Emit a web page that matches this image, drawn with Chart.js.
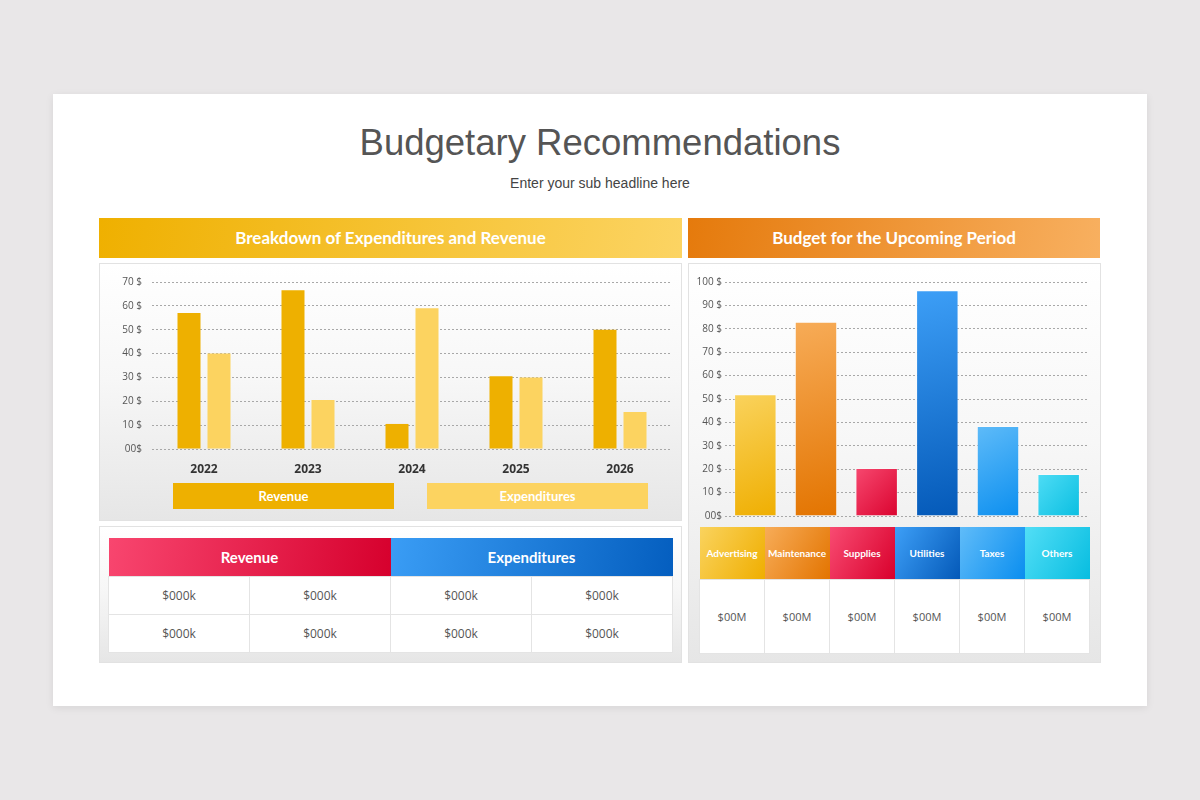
<!DOCTYPE html>
<html>
<head>
<meta charset="utf-8">
<script src="https://cdn.jsdelivr.net/npm/chart.js@4.4.1/dist/chart.umd.min.js"></script>
<style>
  html, body { margin: 0; padding: 0; }
  body { width: 1200px; height: 800px; background: #e9e7e8; position: relative; overflow: hidden; font-family: "Liberation Sans", Arial, sans-serif; }
  .card { position: absolute; left: 53px; top: 94px; width: 1094px; height: 612px; background: #fff; box-shadow: 0 2px 8px rgba(0,0,0,0.08); }
  .abs { position: absolute; }
  h1 { position: absolute; left: 0; top: 122px; width: 1200px; margin: 0; text-align: center; font-weight: normal; font-size: 36.5px; color: #555; }
  .sub { left: 0; top: 175px; width: 1200px; text-align: center; font-size: 14px; color: #444; }
  .head { height: 40px; line-height: 40px; text-align: center; color: #fff; font-family: Lato, "Open Sans", sans-serif; font-weight: bold; font-size: 17px; }
  .panel { background: linear-gradient(to bottom, #ffffff 0%, #f7f7f7 45%, #e6e6e6 100%); border: 1px solid #e2e2e2; box-sizing: border-box; }
  .leg { height: 26px; line-height: 26px; text-align: center; color: #fff; font-family: Lato, "Open Sans", sans-serif; font-weight: bold; font-size: 13px; }
  table { border-collapse: collapse; position: absolute; table-layout: fixed; font-family: "Open Sans", Lato, sans-serif; }
  td { text-align: center; background: #fff; border: 1px solid #e4e4e4; color: #555; padding: 0; }
  th { color: #fff; font-family: Lato, "Open Sans", sans-serif; font-weight: bold; padding: 0; }
  canvas { position: absolute; }
</style>
</head>
<body>
<div class="card"></div>
<h1>Budgetary Recommendations</h1>
<div class="abs sub">Enter your sub headline here</div>

<div class="abs head" style="left:99px;top:218px;width:583px;background:linear-gradient(100deg,#efb000,#fcd463);">Breakdown of Expenditures and Revenue</div>
<div class="abs head" style="left:688px;top:218px;width:412px;background:linear-gradient(100deg,#e57a0c,#f8b060);">Budget for the Upcoming Period</div>

<div class="abs panel" style="left:99px;top:263px;width:583px;height:258px;"></div>
<div class="abs panel" style="left:99px;top:526px;width:583px;height:137px;"></div>
<div class="abs panel" style="left:688px;top:263px;width:413px;height:400px;"></div>

<div style="position:absolute;left:100px;top:266px;width:582px;height:214px;"><canvas id="leftChart"></canvas></div>
<div id="legRev" class="abs leg" style="left:173px;top:483px;width:221px;background:#eeb000;"></div>
<div id="legExp" class="abs leg" style="left:427px;top:483px;width:221px;background:#fcd360;"></div>

<div style="position:absolute;left:688px;top:270px;width:412px;height:255px;"><canvas id="rightChart"></canvas></div>

<table id="leftTable" style="left:108px;top:538px;width:565px;"></table>
<table id="rightTable" style="left:699px;top:527px;width:391px;"></table>

<script>
const years = ['2022', '2023', '2024', '2025', '2026'];
const revenue = [57, 66.5, 10.5, 30.5, 50];
const expenditures = [40, 20.5, 59, 30, 15.5];

const budgetCats = ['Advertising', 'Maintenance', 'Supplies', 'Utilities', 'Taxes', 'Others'];
const budgetVals = [52, 83, 20.5, 96.5, 38.5, 18];

const tableGroups = ['Revenue', 'Expenditures'];
const tableRows = [
    ['$000k', '$000k', '$000k', '$000k'],
    ['$000k', '$000k', '$000k', '$000k']
];
const budgetCells = ['$00M', '$00M', '$00M', '$00M', '$00M', '$00M'];

// colours (top/light, bottom/dark)
const budgetPalette = [
    ['#fad35e', '#efae00'],
    ['#f7ac58', '#e37400'],
    ['#f84b72', '#d9002c'],
    ['#3d9ff7', '#0459b8'],
    ['#60bcf9', '#0a8eef'],
    ['#52def6', '#07bde0']
];
const groupPalette = [['#f8466f', '#d6002d'], ['#3a9df5', '#045ebf']];

document.getElementById('legRev').textContent = 'Revenue';
document.getElementById('legExp').textContent = 'Expenditures';

// left table
const lt = document.getElementById('leftTable');
let html = '<tr style="height:38px">';
tableGroups.forEach((g, i) => {
    html += `<th colspan="2" style="font-size:15px;background:linear-gradient(100deg,${groupPalette[i][0]},${groupPalette[i][1]})">${g}</th>`;
});
html += '</tr>';
tableRows.forEach(r => {
    html += '<tr style="height:38px">' + r.map(c => `<td style="font-size:12px">${c}</td>`).join('') + '</tr>';
});
lt.innerHTML = html;

// right table
const rt = document.getElementById('rightTable');
let h2 = '<tr style="height:52px">';
budgetCats.forEach((c, i) => {
    h2 += `<th style="font-size:10px;background:linear-gradient(120deg,${budgetPalette[i][0]},${budgetPalette[i][1]})">${c}</th>`;
});
h2 += '</tr><tr style="height:74px">' + budgetCells.map(c => `<td style="font-size:11px">${c}</td>`).join('') + '</tr>';
rt.innerHTML = h2;

Chart.defaults.font.family = '"Open Sans", Lato, sans-serif';
Chart.defaults.color = '#555';

const dotted = { color: '#a8a8a8', lineWidth: 1, drawTicks: false };

new Chart(document.getElementById('leftChart'), {
    type: 'bar',
    data: {
        labels: years,
        datasets: [
            { label: 'Revenue', data: revenue, backgroundColor: '#eeb000' },
            { label: 'Expenditures', data: expenditures, backgroundColor: '#fcd360' }
        ]
    },
    options: {
        responsive: true,
        maintainAspectRatio: false,
        animation: false,
        categoryPercentage: 0.577,
        barPercentage: 0.767,
        layout: { padding: { top: 8, right: 10, left: 0, bottom: 0 } },
        plugins: { legend: { display: false }, tooltip: { enabled: false } },
        scales: {
            x: {
                grid: { display: false },
                border: { display: false },
                ticks: { color: '#333', font: { size: 12, weight: 'bold' }, padding: 5 },
                afterFit: s => { s.height = 31; }
            },
            y: {
                min: 0, max: 70,
                ticks: { stepSize: 10, padding: 10, font: { size: 10 }, callback: v => v === 0 ? '00$' : v + ' $' },
                grid: dotted,
                border: { display: false, dash: [2, 2] },
                afterFit: s => { s.width = 52; }
            }
        }
    }
});

new Chart(document.getElementById('rightChart'), {
    type: 'bar',
    data: {
        labels: budgetCats,
        datasets: [{
            data: budgetVals,
            backgroundColor: c => {
                const chart = c.chart;
                const a = chart.chartArea;
                const p = budgetPalette[c.dataIndex];
                if (!a) return p[1];
                const x = chart.scales.x.getPixelForValue(c.dataIndex);
                const y = chart.scales.y.getPixelForValue(budgetVals[c.dataIndex]);
                const g = chart.ctx.createLinearGradient(x - 25, y, x + 25, a.bottom);
                g.addColorStop(0, p[0]);
                g.addColorStop(1, p[1]);
                return g;
            },
            borderColor: 'rgba(255,255,255,0.35)',
            borderWidth: 1
        }]
    },
    options: {
        responsive: true,
        maintainAspectRatio: false,
        animation: false,
        categoryPercentage: 0.7,
        barPercentage: 1,
        layout: { padding: { top: 12, right: 11, left: 0, bottom: 2 } },
        plugins: { legend: { display: false }, tooltip: { enabled: false } },
        scales: {
            x: { display: false },
            y: {
                min: 0, max: 100,
                ticks: { stepSize: 10, padding: 3, font: { size: 10 }, callback: v => v === 0 ? '00$' : v + ' $' },
                grid: dotted,
                border: { display: false, dash: [2, 2] },
                afterFit: s => { s.width = 37; }
            }
        }
    }
});
</script>
</body>
</html>
